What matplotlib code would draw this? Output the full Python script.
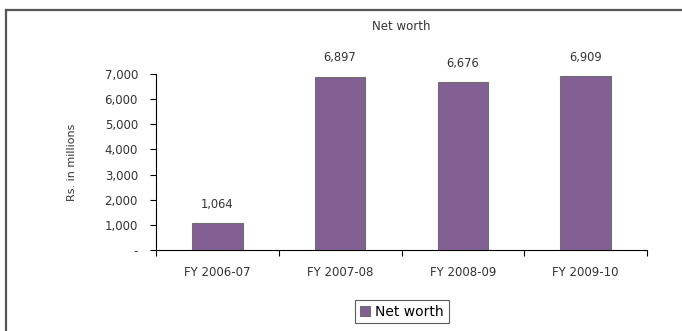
import numpy as np
import matplotlib.pyplot as plt
from matplotlib.lines import Line2D

# данные графика
years = ["FY 2006-07", "FY 2007-08", "FY 2008-09", "FY 2009-10"]
net_worth = [1064, 6897, 6676, 6909]
y_ticks = [0, 1000, 2000, 3000, 4000, 5000, 6000, 7000]

W, H = 682, 331
fig = plt.figure(figsize=(W / 100, H / 100), dpi=100)
plt.rcParams['font.family'] = ['DejaVu Sans']
txt = "#333333"

# рамка вокруг диаграммы (видны только верх и левый край)
fig.add_artist(Line2D([6 / W, 6 / W], [0, 1 - 9.5 / H], transform=fig.transFigure,
                      color="#555555", lw=1.6))
fig.add_artist(Line2D([6 / W, 1], [1 - 9.5 / H, 1 - 9.5 / H], transform=fig.transFigure,
                      color="#555555", lw=1.6))

left, right = 156, 647
top, bottom = 74, 250
ax = fig.add_axes([left / W, 1 - bottom / H, (right - left) / W, (bottom - top) / H])

x = np.arange(len(years))
ax.bar(x, net_worth, width=0.41, color="#826094", edgecolor="#6f6f6f",
       linewidth=0.8, label="Net worth", zorder=3)

ax.set_xlim(-0.5, len(years) - 0.5)
ax.set_ylim(0, 7000)

for xi, v in zip(x, net_worth):
    ax.text(xi, v + 750, f"{v:,}", ha="center", va="center", fontsize=8.3,
            color=txt, clip_on=False)

ax.set_yticks(y_ticks)
ax.set_yticklabels(["-"] + [f"{t:,}" for t in y_ticks[1:]], fontsize=8.5, color=txt)
ax.set_xticks(np.arange(len(years) + 1) - 0.5)
ax.set_xticklabels([])
ax.set_xticks(x, minor=True)
ax.set_xticklabels(years, minor=True, fontsize=8.5, color=txt)
ax.tick_params(axis="x", which="minor", length=0, pad=11.5)
ax.tick_params(axis="x", which="major", length=4, width=0.8, direction="out")
ax.tick_params(axis="y", length=4, width=0.8, direction="out", pad=9)

for s in ["top", "right"]:
    ax.spines[s].set_visible(False)
ax.spines["left"].set_linewidth(0.8)
ax.spines["bottom"].set_linewidth(0.8)

ax.set_ylabel("Rs. in millions", fontsize=8, color=txt, labelpad=20)
fig.text(401 / W, 1 - 27 / H, "Net worth", ha="center", va="center",
         fontsize=8.5, color=txt)

leg = ax.legend(loc="center", bbox_to_anchor=(402 / W, 1 - 311.5 / H),
                bbox_transform=fig.transFigure, fontsize=10, frameon=True,
                fancybox=False, handlelength=0.7, handleheight=0.7,
                handletextpad=0.4, borderpad=0.35)
leg.get_frame().set_edgecolor("#333333")
leg.get_frame().set_linewidth(0.8)

fig.savefig("out.png", dpi=100)
